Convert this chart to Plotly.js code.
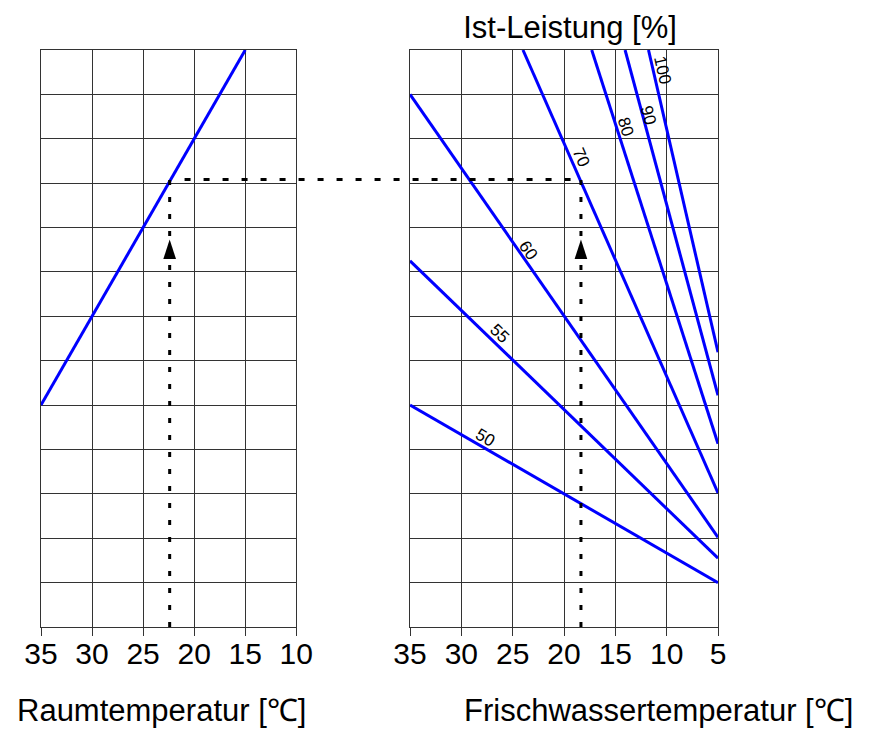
<!DOCTYPE html>
<html>
<head>
<meta charset="utf-8">
<script src="https://cdn.plot.ly/plotly-3.0.1.min.js"></script>
<style>html,body{margin:0;padding:0;background:#fff;}#chart{width:874px;height:731px;}</style>
</head>
<body>
<div id="chart"></div>
<script>
// ---- data ----
const tickVals = [35, 30, 25, 20, 15, 10, 5];
const tickText = ['35', '30', '25', '20', '15', '10', '5'];

// left panel: Raumtemperatur line
const roomX = [35, 15];
const roomY = [5, 13];

// right panel: Ist-Leistung lines
const levels = ['50', '55', '60', '70', '80', '90', '100'];
const lineStartX = [35, 35, 35, 24, 17.3, 14.05, 11.77];
const lineStartY = [5, 8.25, 12, 13, 13, 13, 13];
const lineEndX = [5, 5, 5, 5, 5, 5, 5];
const lineEndY = [1.0, 1.55, 2.02, 3.02, 4.13, 5.22, 6.19];

// label anchor points (data units) and rotation
const labelX = [27.69, 26.29, 23.47, 18.36, 14.04, 11.77, 10.46];
const labelY = [4.28, 6.61, 8.49, 10.57, 11.27, 11.53, 12.55];
const labelAngle = [30, 44, 55.4, 66.4, 72.4, 75.2, 77.4];

// example reading
const exRoomX = 22.4;
const exWaterX = 18.35;
const exY = 10.08;
const arrowTipY = 8.73;

// ---- layout config ----
const font = 'Liberation Sans, Arial, Helvetica, sans-serif';
const domL = [0, 0.3771];
const domR = [0.5451, 1];
const rangeL = [35, 10];
const rangeR = [35, 5];
const gridColor = '#333';
const blue = '#0000ff';

function toPaper(v, range, dom) {
  return dom[0] + (v - range[0]) / (range[1] - range[0]) * (dom[1] - dom[0]);
}

const traces = [];
traces.push({x: roomX, y: roomY, xaxis: 'x', yaxis: 'y', mode: 'lines',
  line: {color: blue, width: 3}, hoverinfo: 'skip'});
levels.forEach((lv, i) => {
  traces.push({x: [lineStartX[i], lineEndX[i]], y: [lineStartY[i], lineEndY[i]],
    xaxis: 'x2', yaxis: 'y2', mode: 'lines', name: lv,
    line: {color: blue, width: 3}, hoverinfo: 'skip'});
});
// dotted verticals
traces.push({x: [exRoomX, exRoomX], y: [0, exY], xaxis: 'x', yaxis: 'y', mode: 'lines',
  line: {color: '#000', width: 3, dash: '5px,12px'}, hoverinfo: 'skip'});
traces.push({x: [exWaterX, exWaterX], y: [0, exY], xaxis: 'x2', yaxis: 'y2', mode: 'lines',
  line: {color: '#000', width: 3, dash: '5px,12px'}, hoverinfo: 'skip'});
// arrows
traces.push({x: [exRoomX], y: [arrowTipY], xaxis: 'x', yaxis: 'y', mode: 'markers',
  marker: {symbol: 'arrow', size: 20.5, color: '#000', line: {width: 0}}, cliponaxis: false, hoverinfo: 'skip'});
traces.push({x: [exWaterX], y: [arrowTipY], xaxis: 'x2', yaxis: 'y2', mode: 'markers',
  marker: {symbol: 'arrow', size: 20.5, color: '#000', line: {width: 0}}, cliponaxis: false, hoverinfo: 'skip'});

function xAxis(dom, range, anchor) {
  return {domain: dom, range: range, anchor: anchor, tickmode: 'array',
    tickvals: tickVals, ticktext: tickText, ticks: 'outside', ticklen: 8, tickwidth: 1,
    tickcolor: gridColor, showgrid: true, gridcolor: gridColor, gridwidth: 1,
    showline: true, linecolor: gridColor, linewidth: 1, mirror: true, zeroline: false,
    ticklabelstandoff: -8,
    tickfont: {family: font, size: 30, color: '#000'}, fixedrange: true};
}
function yAxis(anchor) {
  return {domain: [0, 1], range: [0, 13], anchor: anchor, dtick: 1, tick0: 0,
    showticklabels: false, ticks: '', showgrid: true, gridcolor: gridColor, gridwidth: 1,
    showline: true, linecolor: gridColor, linewidth: 1, mirror: true, zeroline: false, fixedrange: true};
}

const annotations = levels.map((lv, i) => ({
  x: labelX[i], y: labelY[i], xref: 'x2', yref: 'y2', text: lv, showarrow: false,
  textangle: labelAngle[i], font: {family: font, size: 17, color: '#000'},
  xanchor: 'center', yanchor: 'middle'
}));
annotations.push({x: 0.1773, y: -0.1455, xref: 'paper', yref: 'paper', showarrow: false,
  text: 'Raumtemperatur [℃]', font: {family: font, size: 31, color: '#000'}, xanchor: 'center', yanchor: 'middle'});
annotations.push({x: 0.9114, y: -0.1455, xref: 'paper', yref: 'paper', showarrow: false,
  text: 'Frischwassertemperatur [℃]', font: {family: font, size: 31, color: '#000'}, xanchor: 'center', yanchor: 'middle'});

const layout = {
  width: 874, height: 731,
  margin: {l: 41, r: 156, t: 50, b: 104, pad: 0},
  paper_bgcolor: '#fff', plot_bgcolor: '#fff',
  showlegend: false,
  title: {text: 'Ist-Leistung [%]', font: {family: font, size: 31, color: '#000'},
    xref: 'paper', x: 0.7814, xanchor: 'center', yref: 'container', y: 0.963, yanchor: 'middle'},
  xaxis: xAxis(domL, rangeL, 'y'),
  yaxis: yAxis('x'),
  xaxis2: xAxis(domR, rangeR, 'y2'),
  yaxis2: yAxis('x2'),
  shapes: [{type: 'line', xref: 'paper', yref: 'y',
    x0: toPaper(exRoomX, rangeL, domL) + 0.022, x1: toPaper(exWaterX, rangeR, domR),
    y0: exY, y1: exY, line: {color: '#000', width: 3, dash: '6px,13px'}}],
  annotations: annotations
};

Plotly.newPlot('chart', traces, layout, {displayModeBar: false, staticPlot: true});
</script>
</body>
</html>
